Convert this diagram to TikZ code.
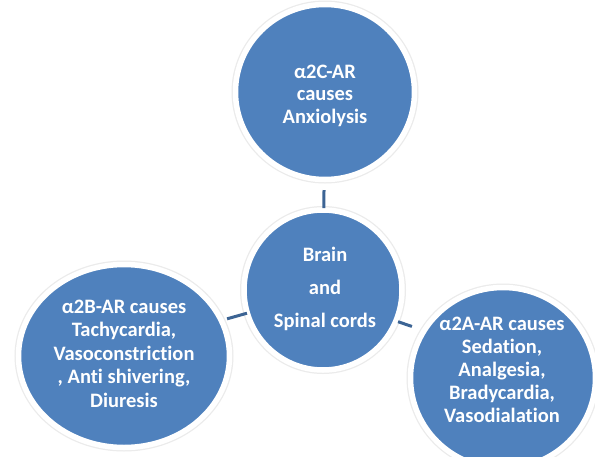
\documentclass[tikz,border=0pt]{standalone}
\usepackage{fontspec}
\setmainfont{Carlito}[Ligatures=NoCommon]
\usetikzlibrary{shapes.geometric,calc}
\definecolor{bblue}{HTML}{4F81BD}
\definecolor{cblue}{HTML}{3C6494}
\begin{document}
\begin{tikzpicture}[x=1pt,y=-1pt,
  bubble/.style={ellipse, fill=bblue, draw=white, line width=5.5pt, inner sep=0pt,
    preaction={draw=black!8, line width=8pt}},
  txt/.style={text=white, align=center, anchor=base, inner sep=0pt},
  conn/.style={draw=cblue, line width=3pt}]
\useasboundingbox (0,0) rectangle (595,456);
\clip (0,0) rectangle (595,456);
\fill[white] (0,0) rectangle (595,456);

\node[bubble, minimum width=179pt, minimum height=175pt] (T) at (325,92) {};
\node[bubble, minimum width=158pt, minimum height=160pt] (C) at (323,290) {};
\node[bubble, minimum width=211pt, minimum height=183pt] (L) at (124,356) {};
\node[bubble, minimum width=185pt, minimum height=181pt] (R) at (503,378) {};

\node[txt, font=\bfseries\fontsize{20.5}{22.5}\selectfont] (Tt) at (325,123) {α2C-AR\\causes\\Anxiolysis};
\node[txt, font=\bfseries\fontsize{20.5}{33}\selectfont] (Ct) at (325,327) {Brain\\and\\Spinal cords};
\node[txt, font=\bfseries\fontsize{20.5}{23.5}\selectfont] (Lt) at (124,407) {α2B-AR causes\\Tachycardia,\\Vasoconstriction\\, Anti shivering,\\Diuresis};
\node[txt, font=\bfseries\fontsize{20.5}{23}\selectfont] (Rt) at (502,422) {α2A-AR causes\\Sedation,\\Analgesia,\\Bradycardia,\\Vasodialation};

\draw[conn] ($(T)!0.495!(C)$) -- ($(T)!0.586!(C)$);
\draw[conn] ($(L)!0.518!(C)+(0,-3)$) -- ($(L)!0.618!(C)+(0,-2)$);
\draw[conn] ($(C)!0.417!(R)+(0,-5)$) -- ($(C)!0.494!(R)+(0,-7)$);
\end{tikzpicture}
\end{document}
